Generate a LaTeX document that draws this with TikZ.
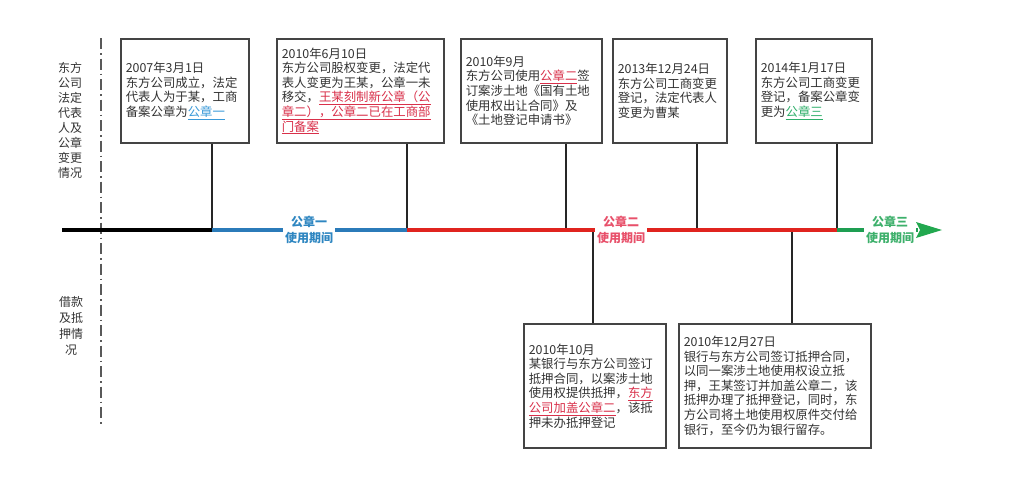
\documentclass[tikz,border=0pt]{standalone}
\usepackage{fontspec}
\setmainfont{Noto Sans CJK SC}
\usetikzlibrary{arrows.meta}
\definecolor{txt}{HTML}{333333}
\definecolor{boxc}{HTML}{444444}
\definecolor{tlblue}{HTML}{2B7BB9}
\definecolor{tlred}{HTML}{E0241F}
\definecolor{tlgreen}{HTML}{1E9E52}
\definecolor{arrgreen}{HTML}{22A84F}
\definecolor{lblblue}{HTML}{2E86C1}
\definecolor{lblred}{HTML}{E8506A}
\definecolor{lblgreen}{HTML}{3DB06B}
\definecolor{ublue}{HTML}{3A9AD9}
\definecolor{ured}{HTML}{D9304A}
\definecolor{ugreen}{HTML}{2EAF6A}
\newcommand{\hlb}[1]{\textcolor{ublue}{\underline{#1}}}
\newcommand{\hlr}[1]{\textcolor{ured}{\underline{#1}}}
\newcommand{\hlg}[1]{\textcolor{ugreen}{\underline{#1}}}
\begin{document}
\begin{tikzpicture}[x=1pt,y=-1pt,
  box/.style={draw=boxc, line width=1.6pt, fill=white, anchor=north west, align=left,
    inner xsep=5pt, inner ysep=2pt, font=\fontsize{12.4}{14.6}\selectfont, text=txt},
  conn/.style={draw=black!85, line width=1.1pt},
  tl/.style={line width=4pt},
  side/.style={align=center, text=txt, font=\fontsize{12}{15}\selectfont, inner sep=0pt},
  period/.style={fill=white, align=center, inner xsep=2pt, inner ysep=1pt,
    font=\fontsize{12}{16}\selectfont\bfseries}
]
\useasboundingbox[fill=white] (0,0) rectangle (1009,477);

% divider
\draw[gray!70!black, line width=1.6pt, dash pattern=on 11pt off 4pt on 1.5pt off 4pt] (101,38) -- (101,426);

% side labels
\node[side] (lblTop) at (70,120) {东方\\公司\\法定\\代表\\人及\\公章\\变更\\情况};
\node[side, font=\fontsize{12}{16}\selectfont] (lblBot) at (71,326) {借款\\及抵\\押情\\况};

% timeline coordinates
\coordinate (s) at (62,230);
\coordinate (c1) at (212,230);
\coordinate (c2) at (407,230);
\coordinate (c3) at (566,230);
\coordinate (c4) at (697,230);
\coordinate (c5) at (837,230);
\coordinate (c6) at (593,230);
\coordinate (c7) at (792,230);
\coordinate (e) at (942,230);

% boxes
\node[box, text width=118pt, minimum width=128pt, minimum height=104pt] (b1) at (120,38)
 {2007年3月1日\\东方公司成立，法定\\代表人为于某，工商\\备案公章为\hlb{公章一}};
\node[box, text width=157pt, minimum width=167pt, minimum height=104pt] (b2) at (276,38)
 {2010年6月10日\\东方公司股权变更，法定代\\表人变更为王某，公章一未\\移交，\hlr{王某刻制新公章（公}\\\hlr{章二），公章二已在工商部}\\\hlr{门备案}};
\node[box, text width=131pt, minimum width=141pt, minimum height=104pt] (b3) at (460,38)
 {2010年9月\\东方公司使用\hlr{公章二}签\\订案涉土地《国有土地\\使用权出让合同》及\\《土地登记申请书》};
\node[box, text width=104pt, minimum width=114pt, minimum height=104pt] (b4) at (612,38)
 {2013年12月24日\\东方公司工商变更\\登记，法定代表人\\变更为曹某};
\node[box, text width=106pt, minimum width=116pt, minimum height=104pt] (b5) at (755,38)
 {2014年1月17日\\东方公司工商变更\\登记，备案公章变\\更为\hlg{公章三}};
\node[box, text width=132pt, minimum width=142pt, minimum height=124pt] (b6) at (523,323)
 {2010年10月\\某银行与东方公司签订\\抵押合同，以案涉土地\\使用权提供抵押，\hlr{东方}\\\hlr{公司加盖公章二}，该抵\\押未办抵押登记};
\node[box, text width=182pt, minimum width=192pt, minimum height=124pt] (b7) at (678,323)
 {2010年12月27日\\银行与东方公司签订抵押合同，\\以同一案涉土地使用权设立抵\\押，王某签订并加盖公章二，该\\抵押办理了抵押登记，同时，东\\方公司将土地使用权原件交付给\\银行，至今仍为银行留存。};

% connectors
\draw[conn] (b1.south -| c1) -- (c1);
\draw[conn] (b2.south -| c2) -- (c2);
\draw[conn] (b3.south -| c3) -- (c3);
\draw[conn] (b4.south -| c4) -- (c4);
\draw[conn] (b5.south -| c5) -- (c5);
\draw[conn] (c6) -- (b6.north -| c6);
\draw[conn] (c7) -- (b7.north -| c7);

% timeline
\draw[tl, black] (s) -- (c1);
\draw[tl, tlblue] (c1) -- (c2);
\draw[tl, tlred] (c2) -- (c5);
\draw[tl, tlgreen] (c5) -- (918,230);
\fill[arrgreen] (916,222) -- (e) -- (916,238) -- (920,230) -- cycle;

% period labels
\node[period, text=lblblue] (p1) at (309,230) {公章一\\使用期间};
\node[period, text=lblred] (p2) at (621,230) {公章二\\使用期间};
\node[period, text=lblgreen] (p3) at (890,230) {公章三\\使用期间};
\end{tikzpicture}
\end{document}
